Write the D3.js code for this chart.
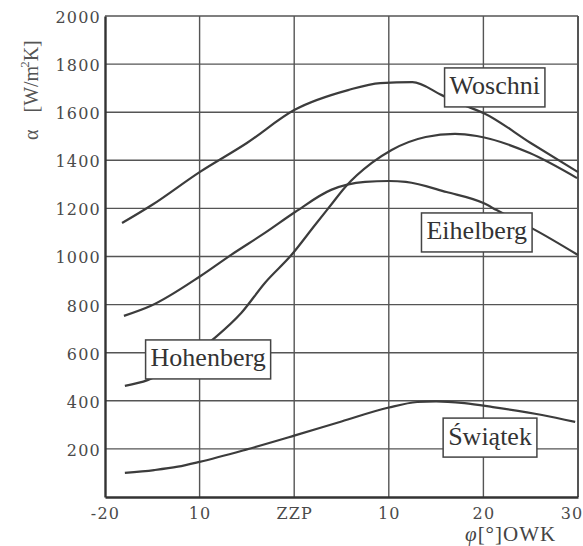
<!DOCTYPE html>
<html>
<head>
<meta charset="utf-8">
<script src="https://cdn.jsdelivr.net/npm/d3@7"></script>
<style>
  body { margin: 0; background: #fff; }
  svg { display: block; }
</style>
</head>
<body>
<svg id="chart"></svg>
<script>
// crank angle ticks (deg), shown with the old ZZP notation
const xTicks = [-20, -10, 0, 10, 20, 30];
const xTickLabels = ["-20", "10", "ZZP", "10", "20", "30"];
const yTicks = [200, 400, 600, 800, 1000, 1200, 1400, 1600, 1800, 2000];

// heat transfer coefficient alpha [W/m2K] vs crank angle
const woschni = [[-18.2, 1139], [-15, 1215], [-10, 1351], [-5, 1472], [0, 1609], [5.7, 1692],
  [9.1, 1721], [12.5, 1725], [15.6, 1671], [18, 1628], [20, 1597], [25, 1472], [30, 1351]];
const eihelberg = [[-18, 753], [-15.2, 794], [-9.9, 919], [-6.7, 1006], [-3.1, 1098], [0.1, 1185],
  [3.9, 1277], [7.5, 1310], [10, 1314], [11.8, 1310], [16.1, 1268], [20, 1222], [21.4, 1193],
  [23, 1160], [25.1, 1118], [30, 1006]];
const hohenberg = [[-17.9, 462], [-15.5, 486], [-12, 560], [-8.3, 665], [-5.6, 765], [-3.1, 890],
  [-0.3, 1006], [2.2, 1131], [3.9, 1215], [5.4, 1289], [8.2, 1389], [10.3, 1443], [13.9, 1497],
  [17, 1510], [19.3, 1501], [24.9, 1430], [29.9, 1326]];
const swiatek = [[-17.9, 100], [-14.8, 112], [-12.3, 126], [-10, 146], [-5, 198], [0, 255],
  [5, 314], [10, 372], [13, 395], [15, 398], [18, 390], [21, 374], [26.2, 341], [29.7, 312]];

const seriesNames = ["Woschni", "Eihelberg", "Hohenberg", "Świątek"];
const seriesData = [woschni, eihelberg, hohenberg, swiatek];
// where each name box sits, in chart units
const labelAt = [[21.2, 1703], [19.3, 1100], [-9.1, 572], [20.7, 247]];

const W = 583, H = 546;
const svg = d3.select("#chart").attr("width", W).attr("height", H);

const x = d3.scaleLinear().domain([-20, 30]).range([105, 578]);
const y = d3.scaleLinear().domain([0, 2000]).range([497, 16]);

const ink = "#3c3c3c";

// grid
svg.append("g")
  .selectAll("line")
  .data(yTicks)
  .join("line")
    .attr("x1", x(-20)).attr("x2", x(30))
    .attr("y1", d => y(d)).attr("y2", d => y(d))
    .attr("stroke", "#555").attr("stroke-width", 1.4);

svg.append("g")
  .selectAll("line")
  .data(xTicks.slice(1))
  .join("line")
    .attr("x1", d => x(d)).attr("x2", d => x(d))
    .attr("y1", y(0)).attr("y2", y(2000))
    .attr("stroke", "#555").attr("stroke-width", d => d === 30 ? 2 : 1.4);

// axes, no tick marks – the grid does that job
const xAxis = svg.append("g")
    .attr("transform", `translate(0,${y(0)})`)
    .call(d3.axisBottom(x).tickValues(xTicks).tickSize(0).tickPadding(10)
      .tickFormat((d, i) => xTickLabels[i]));

const yAxis = svg.append("g")
    .attr("transform", `translate(${x(-20)},0)`)
    .call(d3.axisLeft(y).tickValues(yTicks).tickSize(0).tickPadding(4)
      .tickFormat(d3.format("d")));

[xAxis, yAxis].forEach(g => {
  g.select(".domain").attr("stroke", "#333").attr("stroke-width", 2.4);
  g.selectAll("text")
    .attr("fill", "#4a4a4a")
    .style("font-family", "'DejaVu Serif', serif")
    .style("font-size", "16px")
    .style("letter-spacing", "1.2px");
});
yAxis.selectAll("text").attr("dy", "0.4em");
xAxis.selectAll("text").attr("dy", "0.75em");
// the last label sits on the right border; keep it inside the page
xAxis.selectAll(".tick").filter(d => d === 30).select("text")
    .attr("text-anchor", "end").attr("x", 5);

// curves
const line = d3.line()
    .x(d => x(d[0]))
    .y(d => y(d[1]))
    .curve(d3.curveMonotoneX);

svg.append("g")
  .selectAll("path")
  .data(seriesData)
  .join("path")
    .attr("d", line)
    .attr("fill", "none")
    .attr("stroke", ink)
    .attr("stroke-width", 2.2);

// name boxes
const boxes = svg.append("g")
  .selectAll("g")
  .data(seriesNames)
  .join("g")
    .attr("transform", (d, i) => `translate(${x(labelAt[i][0])},${y(labelAt[i][1])})`);

boxes.append("text")
    .attr("text-anchor", "middle")
    .attr("y", 7)
    .attr("fill", "#333")
    .style("font-family", "'Liberation Serif', serif")
    .style("font-size", "26px")
    .text(d => d);

boxes.each(function() {
  const g = d3.select(this);
  const bb = g.select("text").node().getBBox();
  g.insert("rect", "text")
    .attr("x", bb.x - 5).attr("y", -19.5)
    .attr("width", bb.width + 10).attr("height", 39)
    .attr("fill", "#fff")
    .attr("stroke", "#444").attr("stroke-width", 1.5);
});

// axis titles
const yTitle = svg.append("text")
    .attr("transform", "translate(38,140) rotate(-90)")
    .attr("fill", "#555")
    .style("font-family", "'Liberation Serif', serif")
    .style("font-size", "20px");
yTitle.append("tspan").text("α");
yTitle.append("tspan").attr("dx", 17).text("[W/m");
yTitle.append("tspan").attr("dy", -9).attr("dx", -2).style("font-size", "13px").text("2");
yTitle.append("tspan").attr("dy", 9).text("K]");

svg.append("text")
    .attr("x", 465).attr("y", 541)
    .attr("fill", "#444")
    .style("font-family", "'Liberation Serif', serif")
    .style("font-size", "21px")
    .style("letter-spacing", "1px")
    .html('<tspan font-style="italic">φ</tspan>[°]OWK');
</script>
</body>
</html>
